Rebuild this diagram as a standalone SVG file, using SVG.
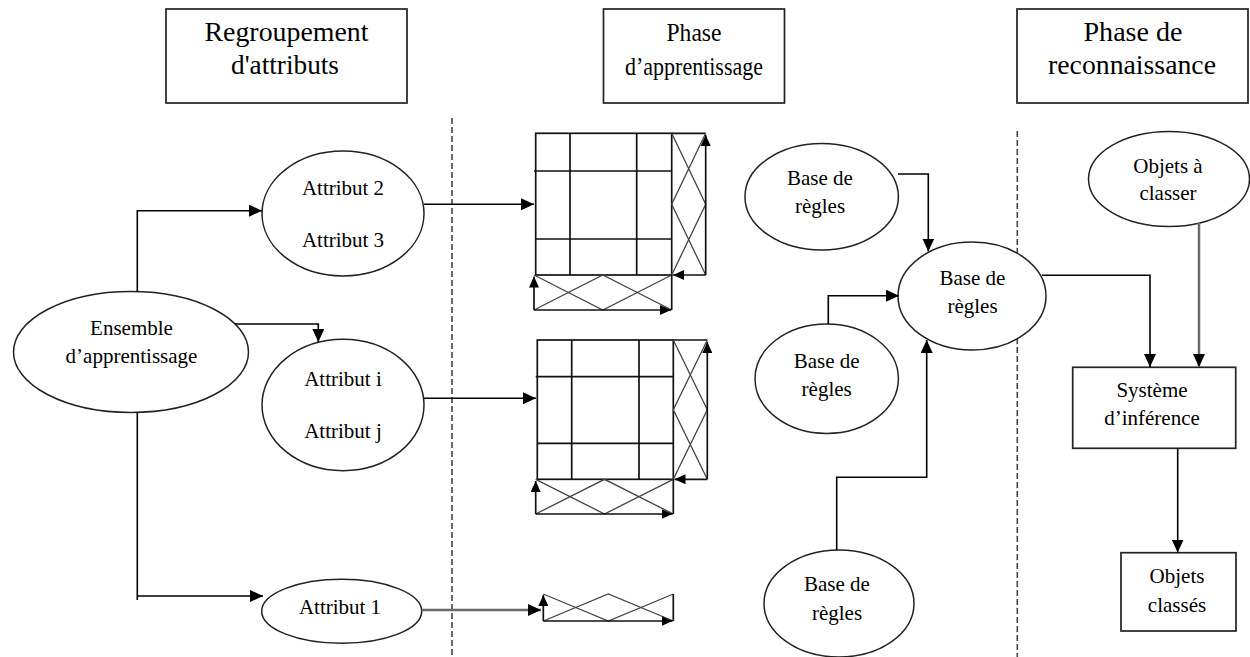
<svg xmlns="http://www.w3.org/2000/svg" width="1250" height="657" viewBox="0 0 1250 657">
<style>
text{font-family:"Liberation Serif","Times New Roman",serif;fill:#000;text-anchor:middle}
.hd{font-size:27px}
.hd2{font-size:26px}
.nt{font-size:21px}
.box{fill:#fff;stroke:#222;stroke-width:1.7}
.ell{fill:#fff;stroke:#222;stroke-width:1.5}
.con{fill:none;stroke:#000;stroke-width:1.6}
.gcon{fill:none;stroke:#6a6a6a;stroke-width:2.5}
.dash{fill:none;stroke:#444;stroke-width:1.6;stroke-dasharray:6 3}
.grid{fill:none;stroke:#111;stroke-width:1.7}
.diag{fill:none;stroke:#444;stroke-width:1.3}
</style>
<defs>
<marker id="arr" markerWidth="13" markerHeight="12" refX="13" refY="6" orient="auto" markerUnits="userSpaceOnUse"><path d="M0,0 L13,6 L0,12 z" fill="#000"/></marker>
<marker id="arrS" markerWidth="11" markerHeight="10" refX="11" refY="5" orient="auto" markerUnits="userSpaceOnUse"><path d="M0,0 L11,5 L0,10 z" fill="#000"/></marker>
</defs>
<rect width="1250" height="657" fill="#fff"/>

<g id="separators">
<line class="dash" x1="452" y1="118" x2="452" y2="657"/>
<line class="dash" x1="1017.3" y1="131" x2="1017.3" y2="657"/>
</g>

<g id="header-regroupement">
<rect class="box" x="166" y="9" width="241" height="94"/>
<text class="hd" x="286.5" y="40.5" textLength="164" lengthAdjust="spacingAndGlyphs">Regroupement</text>
<text class="hd" x="285" y="74" textLength="108" lengthAdjust="spacingAndGlyphs">d'attributs</text>
</g>
<g id="header-apprentissage">
<rect class="box" x="603.5" y="9" width="181" height="94"/>
<text class="hd2" x="694" y="40.5" textLength="55" lengthAdjust="spacingAndGlyphs">Phase</text>
<text class="hd2" x="694" y="75" textLength="138" lengthAdjust="spacingAndGlyphs">d’apprentissage</text>
</g>
<g id="header-reconnaissance">
<rect class="box" x="1017" y="9" width="231" height="94"/>
<text class="hd" x="1133" y="40.5" textLength="99" lengthAdjust="spacingAndGlyphs">Phase de</text>
<text class="hd" x="1132" y="74" textLength="168" lengthAdjust="spacingAndGlyphs">reconnaissance</text>
</g>

<g id="ensemble">
<ellipse class="ell" cx="131" cy="352" rx="117.5" ry="60.5"/>
<text class="nt" x="131.5" y="335">Ensemble</text>
<text class="nt" x="131.5" y="363">d’apprentissage</text>
</g>
<g id="attr23">
<ellipse class="ell" cx="343" cy="213.5" rx="81" ry="62.5"/>
<text class="nt" x="343" y="195">Attribut 2</text>
<text class="nt" x="343" y="246.5">Attribut 3</text>
</g>
<g id="attrij">
<ellipse class="ell" cx="343" cy="405" rx="81" ry="65.7"/>
<text class="nt" x="343" y="386">Attribut i</text>
<text class="nt" x="343" y="437.5">Attribut j</text>
</g>
<g id="attr1">
<ellipse class="ell" cx="341.7" cy="611.3" rx="80" ry="32"/>
<text class="nt" x="340" y="613.5">Attribut 1</text>
</g>

<g id="matrix1">
<rect class="grid" x="535.7" y="133.3" width="136" height="141.7"/>
<path class="grid" d="M570,133.3V275M636.7,133.3V275M534,171H671.7M535.7,239H671.7"/>
<path class="grid" d="M671.7,133.3H705.7"/>
<path class="diag" d="M671.7,133.3L705.7,204.2L671.7,275M705.7,133.3L671.7,204.2L705.7,275"/>
<path class="grid" d="M705.7,275V135" marker-end="url(#arrS)"/>
<path class="grid" d="M705.7,275H673" marker-end="url(#arrS)"/>
<path class="diag" d="M534,275L602.8,310L671.7,275M534,310L602.8,275L671.7,310"/>
<path class="grid" d="M671.7,275V310"/>
<path class="grid" d="M534,310V276.5" marker-end="url(#arrS)"/>
<path class="grid" d="M534,310H671" marker-end="url(#arrS)"/>
</g>

<g id="matrix2">
<rect class="grid" x="537.3" y="340" width="136" height="139.3"/>
<path class="grid" d="M571.7,340V479.3M639,340V479.3M535.7,376.7H673.3M537.3,443.3H673.3"/>
<path class="grid" d="M673.3,340H707.3"/>
<path class="diag" d="M673.3,340L707.3,409.7L673.3,479.3M707.3,340L673.3,409.7L707.3,479.3"/>
<path class="grid" d="M707.3,479.3V342" marker-end="url(#arrS)"/>
<path class="grid" d="M707.3,479.3H674.5" marker-end="url(#arrS)"/>
<path class="diag" d="M535.7,479.3L604.5,514L673.3,479.3M535.7,514L604.5,479.3L673.3,514"/>
<path class="grid" d="M673.3,479.3V514"/>
<path class="grid" d="M535.7,514V481" marker-end="url(#arrS)"/>
<path class="grid" d="M535.7,514H672.5" marker-end="url(#arrS)"/>
</g>

<g id="matrix3">
<path class="diag" d="M543.3,594L608.3,621L673.3,594M543.3,621L608.3,594L673.3,621"/>
<path class="grid" d="M673.3,594V621"/>
<path class="grid" d="M543.3,621V595" marker-end="url(#arrS)"/>
<path class="grid" d="M543.3,621H672.5" marker-end="url(#arrS)"/>
</g>

<g id="base1">
<ellipse class="ell" cx="821.7" cy="196.7" rx="76.7" ry="53.3"/>
<text class="nt" x="820" y="185">Base de</text>
<text class="nt" x="820" y="212.5">règles</text>
</g>
<g id="base-centre">
<ellipse class="ell" cx="972" cy="296" rx="74" ry="54"/>
<text class="nt" x="972.5" y="285">Base de</text>
<text class="nt" x="972.5" y="312.5">règles</text>
</g>
<g id="base2">
<ellipse class="ell" cx="826.7" cy="378.7" rx="71.7" ry="54.7"/>
<text class="nt" x="826.7" y="368">Base de</text>
<text class="nt" x="826.7" y="396">règles</text>
</g>
<g id="base3">
<ellipse class="ell" cx="839" cy="603.5" rx="75" ry="53.5"/>
<text class="nt" x="837" y="590.5">Base de</text>
<text class="nt" x="837" y="620">règles</text>
</g>

<g id="objets-a-classer">
<ellipse class="ell" cx="1169" cy="179" rx="80.5" ry="47.5"/>
<text class="nt" x="1168" y="173">Objets à</text>
<text class="nt" x="1168" y="200">classer</text>
</g>
<g id="systeme-inference">
<rect class="box" x="1072.7" y="367.3" width="163" height="81"/>
<text class="nt" x="1152" y="396.5">Système</text>
<text class="nt" x="1152" y="425">d’inférence</text>
</g>
<g id="objets-classes">
<rect class="box" x="1121" y="552.7" width="115" height="78.3"/>
<text class="nt" x="1177" y="583.3">Objets</text>
<text class="nt" x="1177" y="611.7">classés</text>
</g>

<g id="connectors">
<path class="con" d="M137.3,291.7V210.7H262" marker-end="url(#arr)"/>
<path class="con" d="M235,324H318.3V342" marker-end="url(#arr)"/>
<path class="con" d="M137.3,412.7V600M137.3,596H263" marker-end="url(#arr)"/>
<path class="con" d="M424,204.3H534" marker-end="url(#arr)"/>
<path class="con" d="M424,398.3H536" marker-end="url(#arr)"/>
<path class="gcon" d="M421.7,610H541" marker-end="url(#arr)"/>
<path class="con" d="M898,174H928.3V251.5" marker-end="url(#arr)"/>
<path class="con" d="M828.3,324V295.7H899" marker-end="url(#arr)"/>
<path class="con" d="M836.7,550V477.3H926.7V340" marker-end="url(#arr)"/>
<path class="con" d="M1042,275.3H1150V367" marker-end="url(#arr)"/>
<path class="gcon" d="M1199,223V367" marker-end="url(#arr)"/>
<path class="con" d="M1177.7,448.3V552.5" marker-end="url(#arr)"/>
</g>
</svg>
